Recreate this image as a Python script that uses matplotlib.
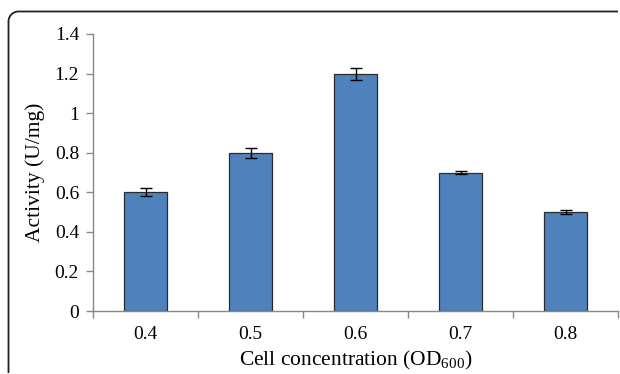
import matplotlib
matplotlib.use("Agg")
import numpy as np
import matplotlib.pyplot as plt
from matplotlib.lines import Line2D
from matplotlib.transforms import IdentityTransform

categories = ["0.4", "0.5", "0.6", "0.7", "0.8"]
activity = [0.60, 0.80, 1.20, 0.70, 0.50]
errors = [0.02, 0.025, 0.03, 0.01, 0.01]
yticks = [0, 0.2, 0.4, 0.6, 0.8, 1, 1.2, 1.4]
ytick_labels = ["0", "0.2", "0.4", "0.6", "0.8", "1", "1.2", "1.4"]

plt.rcParams['font.family'] = ['Liberation Serif', 'DejaVu Serif']
plt.rcParams['mathtext.fontset'] = 'custom'
plt.rcParams['mathtext.rm'] = 'Liberation Serif'
plt.rcParams['mathtext.it'] = 'Liberation Serif:italic'
plt.rcParams['mathtext.bf'] = 'Liberation Serif:bold'
plt.rcParams['mathtext.default'] = 'rm'

W, H = 620, 374
fig = plt.figure(figsize=(W/100, H/100), dpi=100)

# rounded border, only top-left corner visible (pixel coords, origin bottom-left)
left, top, r = 8.5, H - 11.5, 10.0
theta = np.linspace(np.pi, np.pi/2, 20)
bx = np.concatenate([[left], left + r + r*np.cos(theta), [W - 2]])
by = np.concatenate([[1], top - r + r*np.sin(theta), [top]])
fig.add_artist(Line2D(bx, by, transform=IdentityTransform(), color="#222222",
                      linewidth=1.3, solid_capstyle="butt"))

ax = fig.add_axes([93/W, 1-311/H, (618-93)/W, (311-34)/H])
x = list(range(len(categories)))
ax.bar(x, activity, width=0.41, color="#4F81BD", edgecolor="#2b2b2b", linewidth=0.9, zorder=2)
ax.errorbar(x, activity, yerr=errors, fmt="none", ecolor="black", elinewidth=1.0,
            capsize=4, capthick=1.0, zorder=3)

ax.set_xlim(-0.5, len(categories)-0.5)
ax.set_ylim(0, 1.4)
ax.set_yticks(yticks)
ax.set_yticklabels(ytick_labels)
ax.set_xticks(x)
ax.set_xticklabels(categories)
ax.set_xticks([i + 0.5 for i in range(-1, len(categories))], minor=True)
ax.tick_params(axis="x", which="major", length=0, pad=11, labelsize=14)
ax.tick_params(axis="x", which="minor", length=5, width=1, color="#888888", direction="out")
ax.tick_params(axis="y", length=5, width=1, color="#888888", direction="out", labelsize=14, pad=5)

for s in ["top", "right"]:
    ax.spines[s].set_visible(False)
for s in ["left", "bottom"]:
    ax.spines[s].set_color("#888888")
    ax.spines[s].set_linewidth(1)

ax.set_ylabel("Activity (U/mg)", fontsize=15.5, labelpad=7)
ax.set_xlabel("Cell concentration (OD$_{600}$)", fontsize=15.5, labelpad=4)

fig.savefig("out.png", dpi=100)
